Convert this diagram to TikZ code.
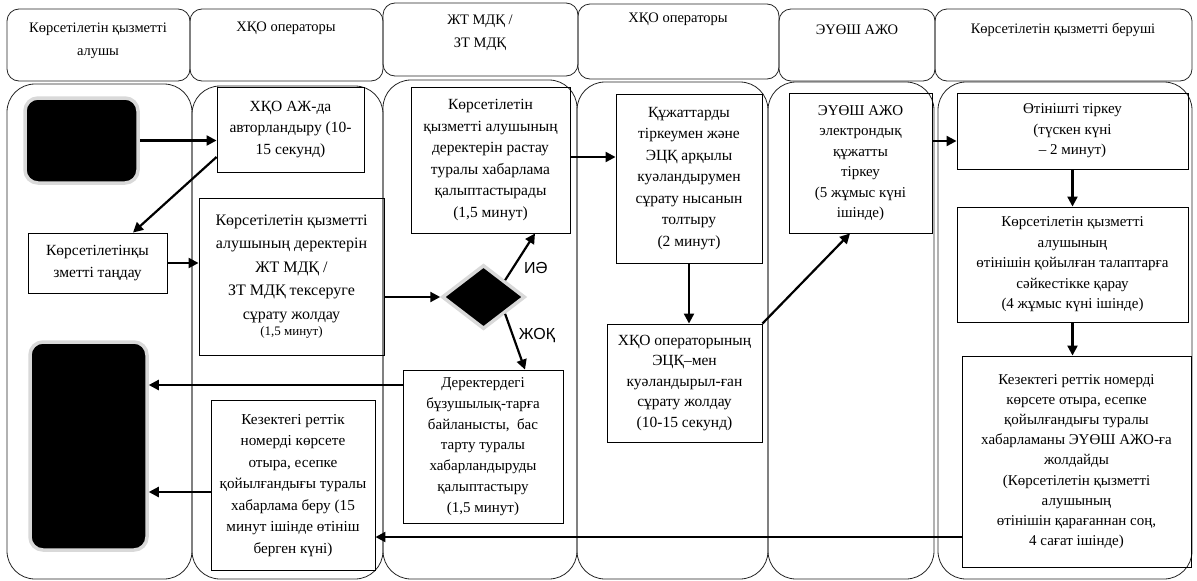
\documentclass[tikz,border=0pt]{standalone}
\usepackage{fontspec}
\setmainfont{Liberation Serif}
\newfontfamily\lblfont{Liberation Sans}
\usetikzlibrary{arrows.meta,shapes.geometric,calc}
\tikzset{
  lane/.style={draw=black!85, line width=0.8pt, rounded corners=28pt},
  hdr/.style={draw=black!85, line width=0.8pt, rounded corners=12pt},
  hdrtext/.style={align=center, font=\fontsize{14.5}{23}\selectfont, inner sep=0pt},
  box/.style={draw=black, line width=0.9pt, align=center, inner sep=1pt, font=\fontsize{15.5}{21.5}\selectfont},
  blackbox/.style={fill=black, draw=black!15, line width=3.5pt, rounded corners=13pt},
  arr/.style={line width=2.2pt, -{Triangle[length=10pt,width=10pt]}},
  yn/.style={font=\lblfont\fontsize{16}{18}\selectfont, inner sep=0pt}
}
\begin{document}
\begin{tikzpicture}[x=1pt,y=-1pt]
\useasboundingbox[fill=white] (0,0) rectangle (1197,581);
% headers
\draw[hdr] (7,9) rectangle (190,81);
\draw[hdr] (190,9) rectangle (383,81);
\draw[hdr] (383,3) rectangle (578,76);
\draw[hdr] (578,4) rectangle (779,79);
\draw[hdr] (779,9) rectangle (935,81);
\draw[hdr] (935,9) rectangle (1192,81);
\node[hdrtext] (h1) at (98,41) {Көрсетілетін қызметті\\алушы};
\node[hdrtext] (h2) at (286,28) {ХҚО операторы};
\node[hdrtext] (h3) at (480,33) {ЖТ МДҚ /\\ЗТ МДҚ};
\node[hdrtext] (h4) at (678,19) {ХҚО операторы};
\node[hdrtext] (h5) at (857,30) {ЭҮӨШ АЖО};
\node[hdrtext] (h6) at (1063,30) {Көрсетілетін қызметті беруші};
% lanes
\draw[lane] (7,84) rectangle (192,579);
\draw[lane] (192,86) rectangle (383,579);
\draw[lane] (383,80) rectangle (577,579);
\draw[lane] (577,82) rectangle (768,579);
\draw[lane] (768,82) rectangle (934,579);
\draw[lane] (938,82) rectangle (1192,579);
% nodes
\node[blackbox, minimum width=113pt, minimum height=85pt] (start) at (81.5,140.5) {};
\node[blackbox, minimum width=117pt, minimum height=208pt] (end) at (88.5,446) {};
\node[box, minimum width=147pt, minimum height=85pt] (a1) at (290.5,129.5) {ХҚО АЖ-да\\авторландыру (10-\\15 секунд)};
\node[box, minimum width=139pt, minimum height=60pt] (a2) at (97.5,263) {Көрсетілетінқы\\зметті таңдау};
\node[box, minimum width=185pt, minimum height=157pt, font=\fontsize{16}{23.5}\selectfont] (a3) at (291.5,276.5) {Көрсетілетін қызметті\\алушының деректерін\\ЖТ МДҚ /\\ЗТ МДҚ тексеруге\\сұрату жолдау\\[-7pt]{\fontsize{13}{14}\selectfont(1,5 минут)}};
\node[box, minimum width=164pt, minimum height=170pt, font=\fontsize{15.2}{21.5}\selectfont] (a4) at (293,485.5) {Кезектегі реттік\\номерді көрсете\\отыра, есепке\\қойылғандығы туралы\\хабарлама беру (15\\минут ішінде өтініш\\берген күні)};
\node[box, minimum width=159pt, minimum height=146pt] (b1) at (490.5,160) {Көрсетілетін\\қызметті алушының\\деректерін растау\\туралы хабарлама\\қалыптастырады\\(1,5 минут)};
\node[diamond, fill=black, draw=black!15, line width=3.5pt, minimum width=83pt, minimum height=64pt, inner sep=0pt] (dia) at (483.5,297) {};
\node[box, minimum width=160pt, minimum height=153pt, font=\fontsize{15}{20.8}\selectfont] (b2) at (483,446.5) {Деректердегі\\бұзушылық-тарға\\байланысты,\ \ бас\\тарту туралы\\хабарландыруды\\қалыптастыру\\(1,5 минут)};
\node[box, minimum width=146pt, minimum height=169pt] (c1) at (689,178.5) {Құжаттарды\\тіркеумен және\\ЭЦҚ арқылы\\куәландырумен\\сұрату нысанын\\толтыру\\(2 минут)};
\node[box, minimum width=155pt, minimum height=118pt, font=\fontsize{15.5}{20.5}\selectfont] (c2) at (684.5,383) {ХҚО операторының\\ЭЦҚ–мен\\куәландырыл-ған\\сұрату жолдау\\(10-15 секунд)};
\node[box, minimum width=143pt, minimum height=140pt, font=\fontsize{15}{20.5}\selectfont] (d1) at (860.5,163) {ЭҮӨШ АЖО\\электрондық\\құжатты\\тіркеу\\(5 жұмыс күні\\ішінде)};
\node[box, minimum width=231pt, minimum height=76pt, font=\fontsize{15}{20.5}\selectfont] (e1) at (1072.5,131) {Өтінішті тіркеу\\(түскен күні\\– 2 минут)};
\node[box, minimum width=231pt, minimum height=115pt, font=\fontsize{15}{20.5}\selectfont] (e2) at (1072.5,264.5) {Көрсетілетін қызметті\\алушының\\өтінішін қойылған талаптарға\\сәйкестікке қарау\\(4 жұмыс күні ішінде)};
\node[box, minimum width=229pt, minimum height=211pt, font=\fontsize{15}{20.2}\selectfont] (e3) at (1076.5,461.5) {Кезектегі реттік номерді\\көрсете отыра, есепке\\қойылғандығы туралы\\хабарламаны ЭҮӨШ АЖО-ға\\жолдайды\\(Көрсетілетін қызметті\\алушының\\өтінішін қарағаннан соң,\\4 сағат ішінде)};
\node[yn] (yes) at (536,268) {ИӘ};
\node[yn] (no) at (537,336) {ЖОҚ};
% connectors
\draw[arr] (start.east) -- (a1.west |- start.east);
\draw[arr] (a1.west |- 0,157) -- (a2.north -| 133,0);
\draw[arr] (a2.east) -- (a3.west |- a2.east);
\draw[arr] (a3.east |- dia.west) -- (dia.west);
\draw[arr] (dia.north east) -- (b1.south -| 535,0);
\draw[arr] (dia.south east) -- (b2.north -| 525,0);
\draw[arr] (b1.east |- 0,157) -- (c1.west |- 0,157);
\draw[arr] (c1.south) -- (c1.south |- c2.north);
\draw[arr] (c2.north east) -- (d1.south -| 850,0);
\draw[arr] (d1.east |- 0,141) -- (e1.west |- 0,141);
\draw[arr] (e1.south) -- (e2.north);
\draw[arr] (e2.south) -- (e2.south |- e3.north);
\draw[arr] (e3.west |- 0,537) -- (a4.east |- 0,537);
\draw[arr] (b2.west |- 0,385) -- (end.east |- 0,385);
\draw[arr] (a4.west |- 0,492) -- (end.east |- 0,492);
\end{tikzpicture}
\end{document}
